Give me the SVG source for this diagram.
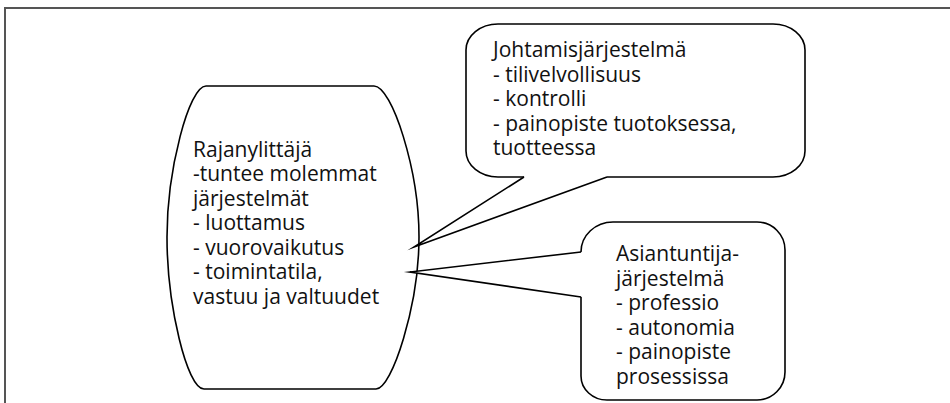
<svg xmlns="http://www.w3.org/2000/svg" width="950" height="403" viewBox="0 0 950 403">
  <style>
    .frame { fill: none; stroke: #555555; stroke-width: 2; }
    .shape { fill: #ffffff; stroke: #000000; stroke-width: 1.6; }
    .tail-fill { fill: #ffffff; stroke: none; }
    .tail-line { fill: none; stroke: #000000; stroke-width: 1.6; stroke-linejoin: miter; stroke-miterlimit: 20; }
    .label { font-family: "Open Sans", "Noto Sans", "DejaVu Sans", sans-serif; font-size: 21px; fill: #111111; }
  </style>

  <rect width="950" height="403" fill="#ffffff"/>

  <!-- outer frame: top and left edges only -->
  <path class="frame" d="M5,403 V8 H950"/>

  <!-- central barrel-shaped node -->
  <g id="rajanylittaja">
    <path class="shape" d="M206,86 L374,86 C392,86 419,170 419,237 C419,305 392,389 376,389 L204,389 C187,389 167,305 167,237 C167,170 189,86 206,86 Z"/>
    <text class="label">
      <tspan x="193" y="156.5">Rajanylittäjä</tspan>
      <tspan x="193" y="181">-tuntee molemmat</tspan>
      <tspan x="193" y="205.5">järjestelmät</tspan>
      <tspan x="193" y="230">- luottamus</tspan>
      <tspan x="193" y="254.5">- vuorovaikutus</tspan>
      <tspan x="193" y="279">- toimintatila,</tspan>
      <tspan x="193" y="303.5">vastuu ja valtuudet</tspan>
    </text>
  </g>

  <!-- upper speech bubble -->
  <g id="johtamisjarjestelma">
    <path class="shape" d="M498,24 L773,24 A32,26 0 0 1 805,50 L805,151 A32,26 0 0 1 773,177 L498,177 A32,26 0 0 1 466,151 L466,50 A32,26 0 0 1 498,24 Z"/>
    <text class="label">
      <tspan x="493" y="57">Johtamisjärjestelmä</tspan>
      <tspan x="493" y="81.5">- tilivelvollisuus</tspan>
      <tspan x="493" y="106">- kontrolli</tspan>
      <tspan x="493" y="130.5">- painopiste tuotoksessa,</tspan>
      <tspan x="493" y="155">tuotteessa</tspan>
    </text>
  </g>

  <!-- lower speech bubble -->
  <g id="asiantuntijajarjestelma">
    <path class="shape" d="M613,222 L757,222 A28,28 0 0 1 785,250 L785,372 A28,28 0 0 1 757,400 L607,400 A26,24 0 0 1 581,376 L581,252 A32,30 0 0 1 613,222 Z"/>
    <text class="label">
      <tspan x="616" y="261">Asiantuntija-</tspan>
      <tspan x="616" y="285.5">järjestelmä</tspan>
      <tspan x="616" y="310">- professio</tspan>
      <tspan x="616" y="334.5">- autonomia</tspan>
      <tspan x="616" y="359">- painopiste</tspan>
      <tspan x="616" y="383.5">prosessissa</tspan>
    </text>
  </g>

  <!-- bubble tails pointing at the central node; the white fill hides the bubble edge at the tail base -->
  <g id="connectors">
    <polygon class="tail-fill" points="524.5,175 606.5,175 607,177 414,247 524,177"/>
    <polyline class="tail-line" points="524,177 414,247 607,177"/>
    <polygon class="tail-fill" points="583,252.5 583,296.5 581,297 410,272 581,252"/>
    <polyline class="tail-line" points="581,252 410,272 581,297"/>
  </g>
</svg>
